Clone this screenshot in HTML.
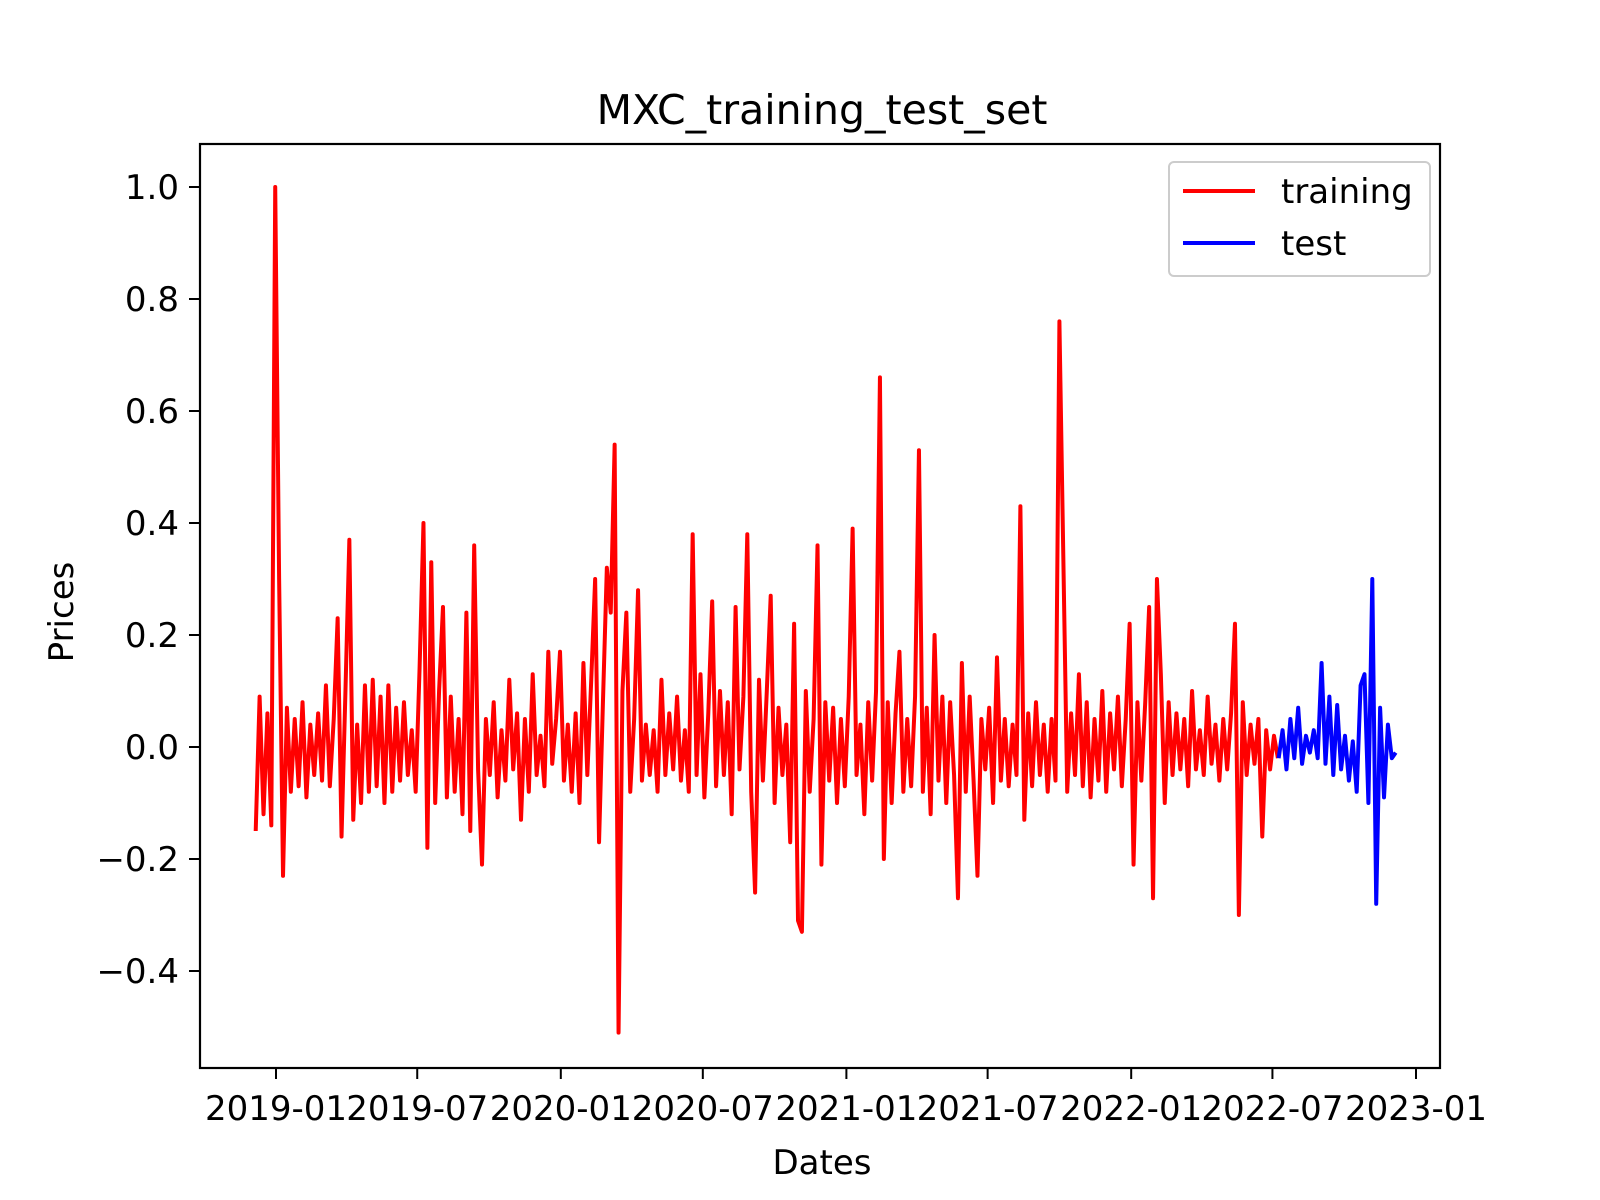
<!DOCTYPE html>
<html><head><meta charset="utf-8"><style>
html,body{margin:0;padding:0;background:#fff}
svg{display:block;font-family:"DejaVu Sans","Liberation Sans",sans-serif}
</style></head><body>
<svg id="chart" width="1600" height="1200" viewBox="0 0 1600 1200">
<rect width="1600" height="1200" fill="#fff"/>
<text x="822" y="124" font-size="41" text-anchor="middle">MXC_training_test_set</text>
<g id="plot"></g>
<g id="xticks"></g>
<g id="yticks"></g>
<rect x="200" y="144" width="1240" height="924" fill="none" stroke="#000" stroke-width="2.2"/>
<text x="822" y="1174" font-size="34" text-anchor="middle">Dates</text>
<text x="0" y="0" font-size="34" text-anchor="middle" transform="translate(73,612) rotate(-90)">Prices</text>
<g>
<rect x="1169" y="162" width="261" height="114" rx="5" fill="#fff" stroke="#ccc" stroke-width="2"/>
<line x1="1183" y1="191" x2="1255" y2="191" stroke="#ff0000" stroke-width="4"/>
<text x="1281" y="203" font-size="34">training</text>
<line x1="1183" y1="243" x2="1255" y2="243" stroke="#0000ff" stroke-width="4"/>
<text x="1281" y="255" font-size="34">test</text>
</g>
</svg>
<script>
const trainStart = "2018-12-06";
const testStart = "2022-07-09";
const stepDays = 5;
const yTicks = [-0.4, -0.2, 0.0, 0.2, 0.4, 0.6, 0.8, 1.0];
const yTickLabels = ["\u22120.4","\u22120.2","0.0","0.2","0.4","0.6","0.8","1.0"];
const xTicks = ["2019-01-01","2019-07-01","2020-01-01","2020-07-01","2021-01-01","2021-07-01","2022-01-01","2022-07-01","2023-01-01"];
const xTickLabels = ["2019-01","2019-07","2020-01","2020-07","2021-01","2021-07","2022-01","2022-07","2023-01"];
const trainingValues = [
-0.15,0.09,-0.12,0.06,-0.14,1.0,0.3,-0.23,0.07,-0.08,
0.05,-0.07,0.08,-0.09,0.04,-0.05,0.06,-0.06,0.11,-0.07,
0.05,0.23,-0.16,0.1,0.37,-0.13,0.04,-0.1,0.11,-0.08,
0.12,-0.07,0.09,-0.1,0.11,-0.08,0.07,-0.06,0.08,-0.05,
0.03,-0.08,0.14,0.4,-0.18,0.33,-0.1,0.1,0.25,-0.09,
0.09,-0.08,0.05,-0.12,0.24,-0.15,0.36,-0.04,-0.21,0.05,
-0.05,0.08,-0.09,0.03,-0.06,0.12,-0.04,0.06,-0.13,0.05,
-0.08,0.13,-0.05,0.02,-0.07,0.17,-0.03,0.05,0.17,-0.06,
0.04,-0.08,0.06,-0.1,0.15,-0.05,0.12,0.3,-0.17,0.08,
0.32,0.24,0.54,-0.51,0.1,0.24,-0.08,0.05,0.28,-0.06,
0.04,-0.05,0.03,-0.08,0.12,-0.05,0.06,-0.04,0.09,-0.06,
0.03,-0.08,0.38,-0.05,0.13,-0.09,0.06,0.26,-0.07,0.1,
-0.05,0.08,-0.12,0.25,-0.04,0.09,0.38,-0.08,-0.26,0.12,
-0.06,0.1,0.27,-0.1,0.07,-0.05,0.04,-0.17,0.22,-0.31,
-0.33,0.1,-0.08,0.05,0.36,-0.21,0.08,-0.06,0.07,-0.1,
0.05,-0.07,0.09,0.39,-0.05,0.04,-0.12,0.08,-0.06,0.1,
0.66,-0.2,0.08,-0.1,0.06,0.17,-0.08,0.05,-0.07,0.09,
0.53,-0.08,0.07,-0.12,0.2,-0.06,0.09,-0.1,0.08,-0.05,
-0.27,0.15,-0.08,0.09,-0.06,-0.23,0.05,-0.04,0.07,-0.1,
0.16,-0.06,0.05,-0.07,0.04,-0.05,0.43,-0.13,0.06,-0.07,
0.08,-0.05,0.04,-0.08,0.05,-0.06,0.76,0.34,-0.08,0.06,
-0.05,0.13,-0.07,0.08,-0.09,0.05,-0.06,0.1,-0.08,0.06,
-0.04,0.09,-0.07,0.05,0.22,-0.21,0.08,-0.06,0.08,0.25,
-0.27,0.3,0.13,-0.1,0.08,-0.05,0.06,-0.04,0.05,-0.07,
0.1,-0.04,0.03,-0.05,0.09,-0.03,0.04,-0.06,0.05,-0.04,
0.06,0.22,-0.3,0.08,-0.05,0.04,-0.03,0.05,-0.16,0.03,-0.04,0.02,-0.02
];
const testValues = [-0.02,0.03,-0.04,0.05,-0.02,0.07,-0.03,0.02,-0.01,0.03,-0.02,0.15,-0.03,0.09,-0.05,0.075,-0.04,0.02,-0.06,0.01,-0.08,0.11,0.13,-0.1,0.3,-0.28,0.07,-0.09,0.04,-0.02,-0.01];

const NS = "http://www.w3.org/2000/svg";
const DAY = 86400000;
const ref = Date.UTC(2019,0,1);
function toDate(s){const p=s.split("-");return Date.UTC(+p[0],+p[1]-1,+p[2]);}
function xScale(t){return 276 + (t-ref)/DAY*(1416-276)/1461;}
function yScale(v){return 747 - v*560;}

const plot=document.getElementById("plot");
function series(start, vals, color, name){
  const t0=toDate(start);
  const pts=vals.map((v,i)=>xScale(t0+i*stepDays*DAY).toFixed(2)+","+yScale(v).toFixed(2)).join(" ");
  const pl=document.createElementNS(NS,"polyline");
  pl.setAttribute("points",pts);
  pl.setAttribute("fill","none");
  pl.setAttribute("stroke",color);
  pl.setAttribute("stroke-width","4");
  pl.setAttribute("stroke-linejoin","round");
  
  
  plot.appendChild(pl);
}
series(trainStart, trainingValues, "#ff0000", "training-line");
series(testStart, testValues, "#0000ff", "test-line");

const xg=document.getElementById("xticks");
xTicks.forEach((d,i)=>{
  const x=xScale(toDate(d));
  const l=document.createElementNS(NS,"line");
  l.setAttribute("x1",x);l.setAttribute("x2",x);l.setAttribute("y1",1068);l.setAttribute("y2",1079);
  l.setAttribute("stroke","#000");l.setAttribute("stroke-width","2");
  
  
  xg.appendChild(l);
  const t=document.createElementNS(NS,"text");
  t.setAttribute("x",x);t.setAttribute("y",1120);t.setAttribute("font-size","34");t.setAttribute("text-anchor","middle");
  t.textContent=xTickLabels[i];
  
  
  xg.appendChild(t);
});
const yg=document.getElementById("yticks");
yTicks.forEach((v,i)=>{
  const y=yScale(v);
  const l=document.createElementNS(NS,"line");
  l.setAttribute("x1",189);l.setAttribute("x2",200);l.setAttribute("y1",y);l.setAttribute("y2",y);
  l.setAttribute("stroke","#000");l.setAttribute("stroke-width","2");
  
  
  yg.appendChild(l);
  const t=document.createElementNS(NS,"text");
  t.setAttribute("x",179);t.setAttribute("y",y+12);t.setAttribute("font-size","34");t.setAttribute("text-anchor","end");
  t.textContent=yTickLabels[i];
  
  
  yg.appendChild(t);
});
</script>
</body></html>
